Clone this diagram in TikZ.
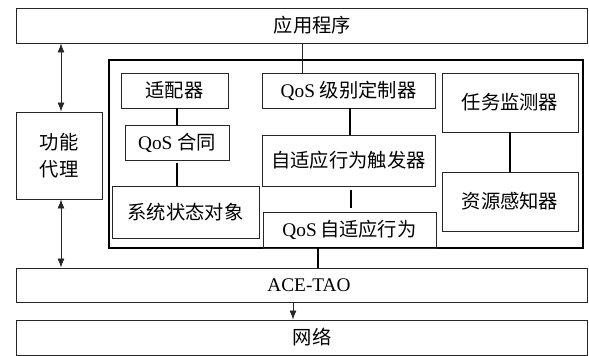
\documentclass[tikz,border=0pt]{standalone}
\usepackage{fontspec}
\setmainfont{Liberation Serif}
\newfontfamily\cjk{Noto Sans CJK SC}
\usetikzlibrary{arrows.meta}
\begin{document}
\begin{tikzpicture}[x=1pt,y=-1pt,
  box/.style={draw=black!85, line width=0.9pt, inner sep=0pt, font=\fontsize{19.3}{27}\selectfont, align=center},
  bigbox/.style={draw=black, line width=2pt, inner sep=0pt},
  txt/.style={inner sep=0pt, font=\fontsize{19.3}{27}\selectfont},
  conn/.style={line width=1.3pt},
  arr/.style={line width=0.8pt, draw=black!85, {Latex[length=9pt,width=7pt]}-{Latex[length=9pt,width=7pt]}},
  darr/.style={line width=0.8pt, draw=black!85, -{Latex[length=9pt,width=7pt]}}]
\useasboundingbox (0,0) rectangle (589,356);
% wide layers
\node[box, minimum width=571pt, minimum height=35pt] (app) at (301.5,25.5) {};
\node[txt] (apptext) at (312.5,25.5) {\cjk 应用程序};
\node[box, minimum width=571pt, minimum height=34pt] (ace) at (301.5,285) {};
\node[txt] (acetext) at (309,285) {ACE-TAO};
\node[box, minimum width=571pt, minimum height=35pt] (net) at (301.5,337.5) {};
\node[txt] (nettext) at (312,337.5) {\cjk 网络};
% function proxy
\node[box, minimum width=86pt, minimum height=87pt] (proxy) at (59,155.5) {\cjk 功能\\\cjk 代理};
% big container
\node[bigbox, minimum width=474pt, minimum height=188pt] (big) at (346,154) {};
% left column
\node[box, minimum width=107pt, minimum height=35pt] (adapt) at (174.5,90.5) {\cjk 适配器};
\node[box, minimum width=104pt, minimum height=35pt] (contract) at (177,142.5) {QoS {\cjk 合同}};
\node[box, minimum width=147pt, minimum height=52pt] (state) at (185.5,212) {\cjk 系统状态对象};
% middle column
\node[box, minimum width=173pt, minimum height=35pt] (level) at (348.5,90.5) {QoS {\cjk 级别定制器}};
\node[box, minimum width=173pt, minimum height=51pt] (trigger) at (348.5,160.5) {\cjk 自适应行为触发器};
\node[box, minimum width=173pt, minimum height=36pt] (behave) at (349.5,230) {QoS\,{\cjk 自适应行为}};
% right column
\node[box, minimum width=136pt, minimum height=59pt] (task) at (510,102.5) {\cjk 任务监测器};
\node[box, minimum width=136pt, minimum height=59pt] (res) at (510,201.5) {\cjk 资源感知器};
% connectors
\draw[arr] ([xshift=2pt]proxy.north) -- ([xshift=2pt]proxy.north |- app.south);
\draw[arr] ([xshift=2pt]proxy.south) -- ([xshift=2pt]proxy.south |- ace.north);
\draw[line width=0.8pt, draw=black!85] ([xshift=-46.5pt]level.north) -- ([xshift=-46.5pt]level.north |- app.south);
\draw[conn] (contract.north) -- (contract.north |- adapt.south);
\draw[conn, shorten <=3pt] (contract.south) -- (contract.south |- state.north);
\draw[conn] ([xshift=1.5pt]level.south) -- ([xshift=1.5pt]level.south |- trigger.north);
\draw[conn, shorten <=4pt, shorten >=4pt] ([xshift=2.5pt]trigger.south) -- ([xshift=2.5pt]trigger.south |- behave.north);
\draw[conn] (task.south) -- (res.north);
\draw[conn] ([xshift=-31.5pt]behave.south) -- ([xshift=-31.5pt]behave.south |- ace.north);
\draw[darr] ([xshift=-8.5pt]ace.south) -- ([xshift=-8.5pt]ace.south |- net.north);
\end{tikzpicture}
\end{document}
